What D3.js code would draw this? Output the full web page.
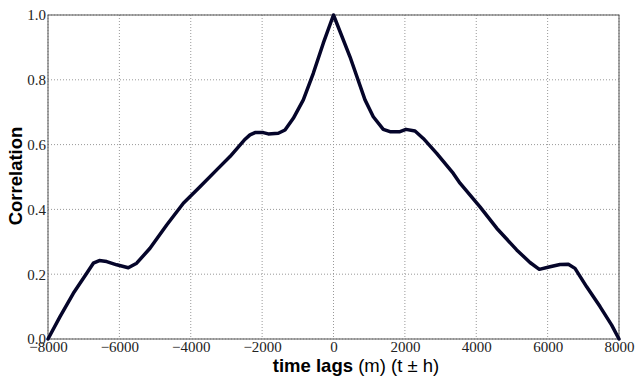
<!DOCTYPE html>
<html>
<head>
<meta charset="utf-8">
<script src="https://cdn.jsdelivr.net/npm/d3@7"></script>
<style>
  body { margin: 0; background: #fff; }
  .grid line { stroke: #999; stroke-dasharray: 1,2; }
  .label { font-family: "Liberation Sans", Arial, sans-serif; font-size: 18.5px; fill: #000; }
</style>
</head>
<body>
<svg class="corr-plot" width="635" height="376"></svg>
<script>
// lag values (m) and correlation
var lags = [-8000, -7663, -7290, -6915, -6730, -6562, -6355, -6075, -5750, -5515, -5142,
  -4674, -4208, -3741, -3273, -2900, -2500, -2340, -2200, -1967, -1827, -1547, -1359, -1126,
  -846, -566, -286, 0, 462, 883, 1115, 1395, 1583, 1863, 2031, 2284, 2516, 2892, 3357,
  3545, 4105, 4573, 5133, 5506, 5767, 6066, 6347, 6580, 6767, 7094, 7468, 7795, 8000];
var corr = [0.0, 0.069, 0.141, 0.203, 0.234, 0.242, 0.239, 0.229, 0.220, 0.234, 0.280,
  0.352, 0.419, 0.470, 0.522, 0.563, 0.614, 0.630, 0.637, 0.637, 0.633, 0.635, 0.645, 0.681,
  0.738, 0.820, 0.913, 1.0, 0.871, 0.738, 0.686, 0.647, 0.640, 0.640, 0.647, 0.642, 0.619,
  0.573, 0.511, 0.481, 0.408, 0.342, 0.275, 0.236, 0.215, 0.223, 0.230, 0.231, 0.218,
  0.161, 0.100, 0.043, 0.0];
var xTicks = [-8000, -6000, -4000, -2000, 0, 2000, 4000, 6000, 8000];
var yTicks = [0.0, 0.2, 0.4, 0.6, 0.8, 1.0];

var svg = d3.select('svg.corr-plot');
var padding = {t: 15, r: 16, b: 37, l: 48};
var chartWidth = +svg.attr('width') - padding.l - padding.r;
var chartHeight = +svg.attr('height') - padding.t - padding.b;

var xScale = d3.scaleLinear().domain([-8000, 8000]).range([0, chartWidth]);
var yScale = d3.scaleLinear().domain([0, 1]).range([chartHeight, 0]);

var chartG = svg.append('g')
    .attr('transform', 'translate(' + [padding.l, padding.t] + ')');

// grid lines
var gridG = chartG.append('g').attr('class', 'grid');
gridG.selectAll('line.gx').data(xTicks).enter().append('line')
    .attr('class', 'gx')
    .attr('x1', function(d) { return xScale(d); })
    .attr('x2', function(d) { return xScale(d); })
    .attr('y1', 0).attr('y2', chartHeight);
gridG.selectAll('line.gy').data(yTicks).enter().append('line')
    .attr('class', 'gy')
    .attr('y1', function(d) { return yScale(d); })
    .attr('y2', function(d) { return yScale(d); })
    .attr('x1', 0).attr('x2', chartWidth);

// axes
var minus = function(d) { return d < 0 ? '\u2212' + Math.abs(d) : String(d); };
var xAxisG = chartG.append('g')
    .attr('transform', 'translate(' + [0, chartHeight] + ')')
    .call(d3.axisBottom(xScale).tickValues(xTicks).tickFormat(minus).tickSize(0).tickPadding(0));
var yAxisG = chartG.append('g')
    .call(d3.axisLeft(yScale).tickValues(yTicks).tickFormat(d3.format('.1f')).tickSize(0).tickPadding(2));
[xAxisG, yAxisG].forEach(function(g) {
  g.select('.domain').remove();
  g.attr('font-family', '"Liberation Serif", "DejaVu Serif", serif').attr('font-size', 15);
  g.selectAll('.tick text')
    .style('font-family', '"Liberation Serif", "DejaVu Serif", serif')
    .style('font-size', '15px')
    .attr('fill', '#222');
});
xAxisG.selectAll('.tick text').attr('dy', '0.86em');

// frame
chartG.append('rect')
    .attr('width', chartWidth).attr('height', chartHeight)
    .attr('fill', 'none').attr('stroke', '#555').attr('stroke-width', 1);

// correlation curve
var line = d3.line()
    .x(function(d, i) { return xScale(lags[i]); })
    .y(function(d) { return yScale(d); });
chartG.append('path')
    .datum(corr)
    .attr('d', line)
    .attr('fill', 'none')
    .attr('stroke', '#05052a')
    .attr('stroke-width', 3.5)
    .attr('stroke-linejoin', 'round')
    .attr('stroke-linecap', 'round');

// axis labels
var xl = svg.append('text').attr('class', 'label')
    .attr('x', 356).attr('y', 371.5).attr('text-anchor', 'middle');
xl.append('tspan').attr('font-weight', 'bold').text('time lags');
xl.append('tspan').text(' (m) (t \u00b1 h)');

svg.append('text').attr('class', 'label')
    .attr('font-weight', 'bold')
    .attr('text-anchor', 'middle')
    .attr('transform', 'translate(22,176) rotate(-90)')
    .text('Correlation');
</script>
</body>
</html>
